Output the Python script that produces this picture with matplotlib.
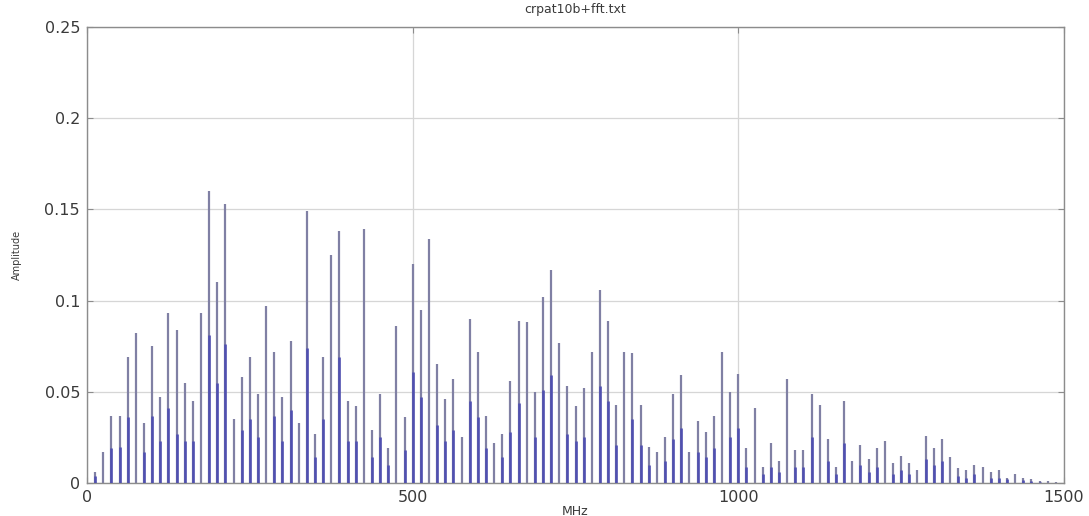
import numpy as np
import matplotlib
matplotlib.use("Agg")
import matplotlib.pyplot as plt

plt.rcParams['font.family'] = ['DejaVu Sans']

# spectrum lines, one every 12.5 MHz (bin 1 .. 119)
bin_index = np.arange(1, 120)
freq_mhz = 12.5 * bin_index

# tall (grey-blue) lines
amp_upper = [
    0.006, 0.017, 0.037, 0.037, 0.069, 0.082, 0.033, 0.075, 0.047, 0.093,
    0.084, 0.055, 0.045, 0.093, 0.160, 0.110, 0.153, 0.035, 0.058, 0.069,
    0.049, 0.097, 0.072, 0.047, 0.078, 0.033, 0.149, 0.027, 0.069, 0.125,
    0.138, 0.045, 0.042, 0.139, 0.029, 0.049, 0.019, 0.086, 0.036, 0.120,
    0.095, 0.134, 0.065, 0.046, 0.057, 0.025, 0.090, 0.072, 0.037, 0.022,
    0.027, 0.056, 0.089, 0.088, 0.050, 0.102, 0.117, 0.077, 0.053, 0.042,
    0.052, 0.072, 0.106, 0.089, 0.043, 0.072, 0.071, 0.043, 0.020, 0.017,
    0.025, 0.049, 0.059, 0.017, 0.034, 0.028, 0.037, 0.072, 0.050, 0.060,
    0.019, 0.041, 0.009, 0.022, 0.012, 0.057, 0.018, 0.018, 0.049, 0.043,
    0.024, 0.009, 0.045, 0.012, 0.021, 0.013, 0.019, 0.023, 0.011, 0.015,
    0.011, 0.007, 0.026, 0.019, 0.024, 0.014, 0.008, 0.007, 0.010, 0.009,
    0.006, 0.007, 0.003, 0.005, 0.003, 0.002, 0.001, 0.001, 0.0005,
]

# shorter (blue) lines drawn over them
amp_lower = [
    0.004, 0.000, 0.019, 0.020, 0.036, 0.000, 0.017, 0.037, 0.023, 0.041,
    0.027, 0.023, 0.023, 0.000, 0.081, 0.055, 0.076, 0.000, 0.029, 0.035,
    0.025, 0.000, 0.037, 0.023, 0.040, 0.000, 0.074, 0.014, 0.035, 0.000,
    0.069, 0.023, 0.023, 0.000, 0.014, 0.025, 0.010, 0.000, 0.018, 0.061,
    0.047, 0.000, 0.032, 0.023, 0.029, 0.000, 0.045, 0.036, 0.019, 0.000,
    0.014, 0.028, 0.044, 0.000, 0.025, 0.051, 0.059, 0.000, 0.027, 0.023,
    0.025, 0.000, 0.053, 0.045, 0.021, 0.000, 0.035, 0.021, 0.010, 0.000,
    0.012, 0.024, 0.030, 0.000, 0.017, 0.014, 0.019, 0.000, 0.025, 0.030,
    0.009, 0.000, 0.005, 0.009, 0.006, 0.000, 0.009, 0.009, 0.025, 0.000,
    0.012, 0.005, 0.022, 0.000, 0.010, 0.006, 0.009, 0.000, 0.005, 0.007,
    0.005, 0.000, 0.013, 0.010, 0.012, 0.000, 0.004, 0.003, 0.005, 0.000,
    0.003, 0.003, 0.002, 0.000, 0.0015, 0.001, 0.0005, 0.000, 0.000,
]

fig = plt.figure(figsize=(10.89, 5.16), dpi=100)
ax = fig.add_axes([87 / 1089, 1 - 483 / 516, (1064 - 87) / 1089, (483 - 27) / 516])

ax.vlines(freq_mhz, 0, amp_upper, color='#8080a4', linewidth=1.6, zorder=2)
ax.vlines(freq_mhz, 0, amp_lower, color='#5050b0', linewidth=1.9, zorder=3)

ax.set_xlim(0, 1500)
ax.set_ylim(0, 0.25)
ax.set_xticks([0, 500, 1000, 1500])
ax.set_yticks([0, 0.05, 0.1, 0.15, 0.2, 0.25])
ax.set_yticklabels(['0', '0.05', '0.1', '0.15', '0.2', '0.25'])
ax.grid(True, color='#d6d6d6', linewidth=0.9)
ax.set_axisbelow(True)

for s in ax.spines.values():
    s.set_color('#8c8c8c')
    s.set_linewidth(1.0)
ax.tick_params(direction='in', length=4, color='#8c8c8c', labelsize=11.5,
               labelcolor='#3a3a3a', top=True, right=True, pad=5)

ax.set_title('crpat10b+fft.txt', fontsize=9, color='#3a3a3a', pad=10)
ax.set_xlabel('MHz', fontsize=9, color='#3a3a3a', labelpad=0)
ax.set_ylabel('Amplitude', fontsize=7, color='#3a3a3a', labelpad=16)

fig.savefig('out.png', dpi=100, facecolor='white')
